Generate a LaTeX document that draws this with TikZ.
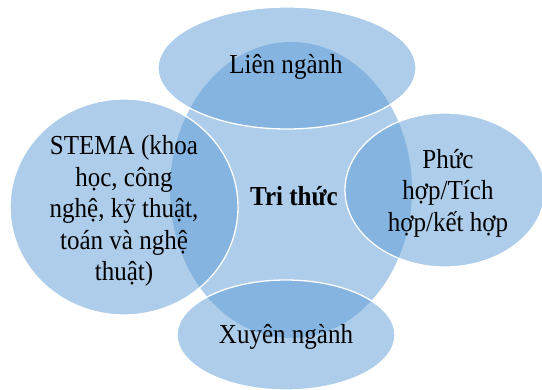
\documentclass[tikz,border=0pt]{standalone}
\usepackage{fontspec}
\setmainfont{Liberation Serif}
\usetikzlibrary{shapes.geometric}
\definecolor{acc}{HTML}{5B9BD5}
\tikzset{
  blob/.style={ellipse, inner sep=0pt, fill=acc, fill opacity=0.5},
  rim/.style={blob, draw=white, draw opacity=1, line width=1.3pt},
  txt/.style={align=center, text=black, inner sep=0pt, xscale=0.91, transform shape, font=\fontsize{27.5}{31.5}\selectfont},
}
\begin{document}
\begin{tikzpicture}[x=1pt,y=-1pt]
\useasboundingbox (0,0) rectangle (542,390);
\node[blob, minimum width=242pt, minimum height=296pt] (core) at (291,190) {};
\node[rim, minimum width=258pt, minimum height=122pt] (top) at (287,68) {};
\node[rim, minimum width=200pt, minimum height=154pt] (right) at (445,190) {};
\node[rim, minimum width=218pt, minimum height=110pt] (bottom) at (286,335) {};
\node[rim, minimum width=228pt, minimum height=216pt] (left) at (124,207) {};
\node[txt] (ttop) at (286,67) {Liên ngành};
\node[txt] (tright) at (448,193) {Phức\\hợp/Tích\\hợp/kết hợp};
\node[txt] (tbottom) at (286,337) {Xuyên ngành};
\node[txt] (tleft) at (124,211) {STEMA (khoa\\học, công\\nghệ, kỹ thuật,\\toán và nghệ\\thuật)};
\node[txt, font=\fontsize{27.5}{31.5}\selectfont\bfseries] (lbl) at (294,196) {Tri thức};
\end{tikzpicture}
\end{document}
